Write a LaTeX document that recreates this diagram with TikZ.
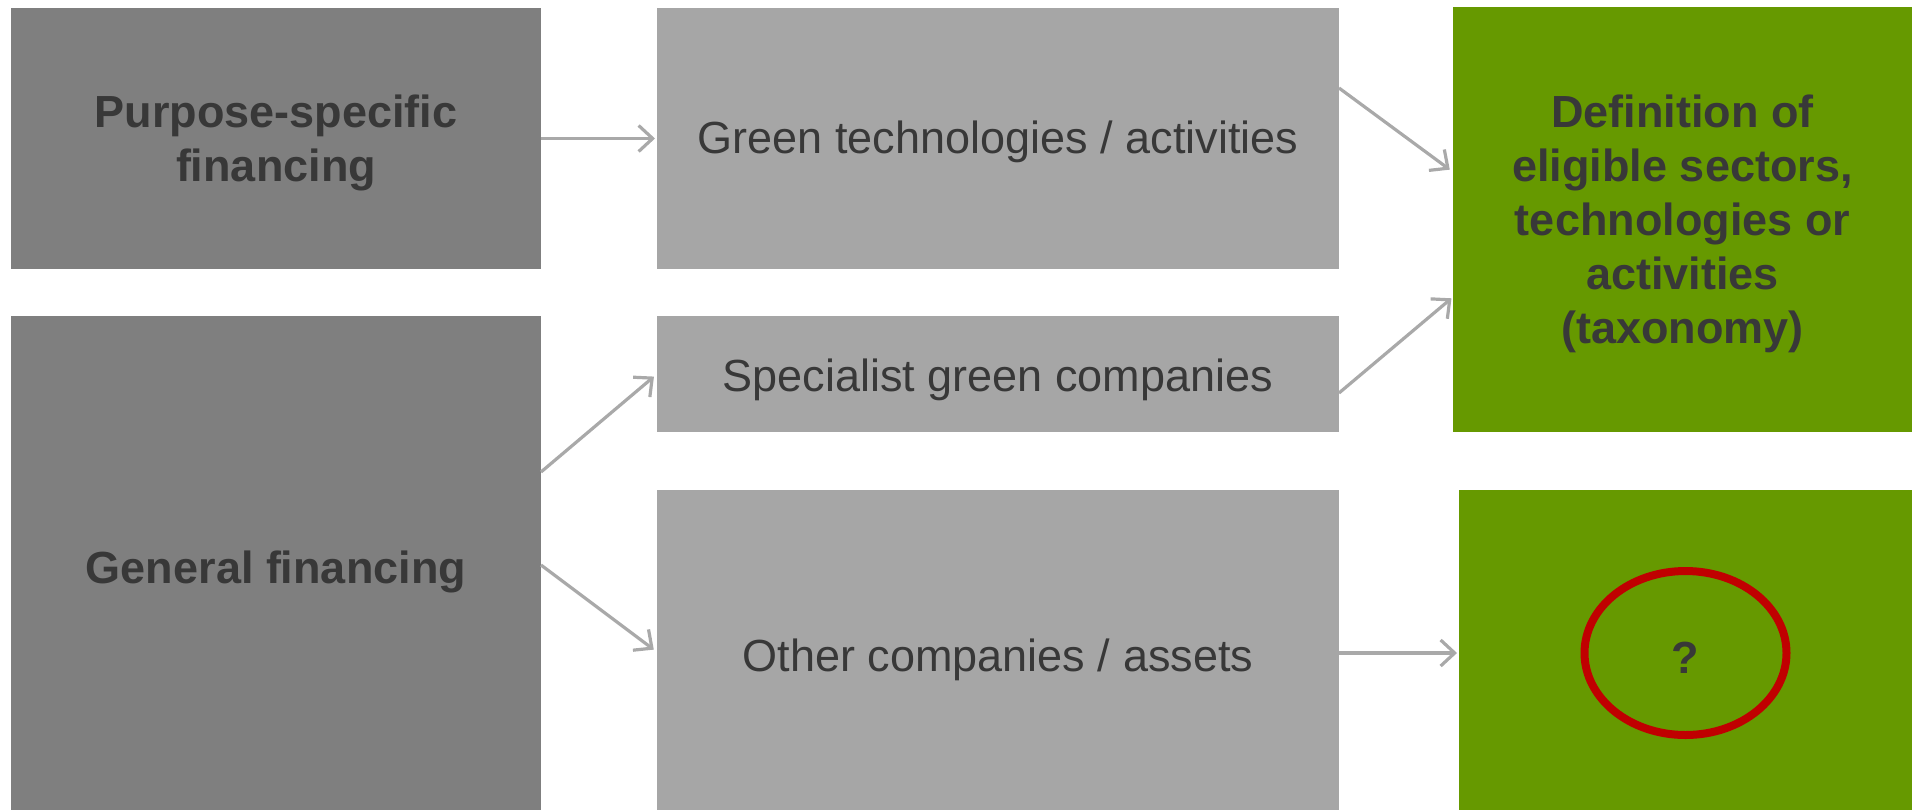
\documentclass[tikz,border=0pt]{standalone}
\usepackage{fontspec}
\setmainfont{Liberation Sans}
\usetikzlibrary{arrows.meta,shapes.geometric}
\definecolor{darkbox}{HTML}{7F7F7F}
\definecolor{lightbox}{HTML}{A6A6A6}
\definecolor{leaf}{HTML}{669900}
\definecolor{ink}{HTML}{383838}
\definecolor{flow}{HTML}{A9A9A9}
\definecolor{alert}{HTML}{C00000}
\begin{document}
\begin{tikzpicture}[x=0.5pt,y=-0.5pt,
  panel/.style={rectangle, inner sep=0pt, outer sep=0pt},
  source/.style={panel, fill=darkbox},
  target/.style={panel, fill=lightbox},
  result/.style={panel, fill=leaf},
  caption/.style={inner sep=0pt, text=ink, align=center,
    font=\fontsize{22.5}{27}\selectfont},
  heading/.style={caption, font=\fontsize{22.5}{27}\selectfont\bfseries},
  link/.style={draw=flow, line width=1.6pt,
    -{Straight Barb[length=7pt,width=13pt,line width=1.6pt]}}]
\useasboundingbox (0,0) rectangle (1912,810);

% financing types
\node[source, minimum width=265pt, minimum height=130.5pt] (purpose) at (276,138.5) {};
\node[source, minimum width=265pt, minimum height=247pt] (general) at (276,563) {};

% what is financed
\node[target, minimum width=341pt, minimum height=130.5pt] (tech) at (998,138.5) {};
\node[target, minimum width=341pt, minimum height=58pt] (special) at (998,374) {};
\node[target, minimum width=341pt, minimum height=160pt] (other) at (998,650) {};

% eligibility criteria
\node[result, minimum width=229.5pt, minimum height=212.5pt] (taxo) at (1682.5,219.5) {};
\node[result, minimum width=226.5pt, minimum height=160pt] (open) at (1685.5,650) {};
\node[ellipse, draw=alert, line width=4pt, minimum width=101pt, minimum height=82pt,
  inner sep=0pt] (ring) at ([yshift=-1.5pt]open.center) {};

% texts
\node[heading] (purposeText) at ([yshift=-2.4pt]purpose.center) {Purpose-specific\\financing};
\node[heading] (generalText) at ([yshift=-4.3pt]general.center) {General financing};
\node[caption] (techText) at ([yshift=-1.8pt]tech.center) {Green technologies / activities};
\node[caption] (specialText) at ([yshift=-3pt]special.center) {Specialist green companies};
\node[caption] (otherText) at ([yshift=-4.9pt]other.center) {Other companies / assets};
\node[heading] (taxoText) at ([yshift=-2.4pt]taxo.center)
  {Definition of\\eligible sectors,\\technologies or\\activities\\(taxonomy)};
\node[heading] (ringText) at ([yshift=-2.4pt]ring.center) {?};

% flows
\draw[link, shorten >=1pt] (purpose.east) -- (tech.west);
\draw[link, shorten >=2pt] ([yshift=45.5pt]general.east) -- (special.west);
\draw[link, shorten >=2pt] ([yshift=-1pt]general.east) -- ([yshift=-1pt]other.west);
\draw[link, shorten >=2pt] ([yshift=25.25pt]tech.east) -- ([yshift=23.75pt]taxo.west);
\draw[link, shorten >=1pt] ([yshift=-9.5pt]special.east) -- ([yshift=-38.75pt]taxo.west);
\draw[link, shorten >=1pt] ([yshift=-1.5pt]other.east) -- ([yshift=-1.5pt]open.west);
\end{tikzpicture}
\end{document}
